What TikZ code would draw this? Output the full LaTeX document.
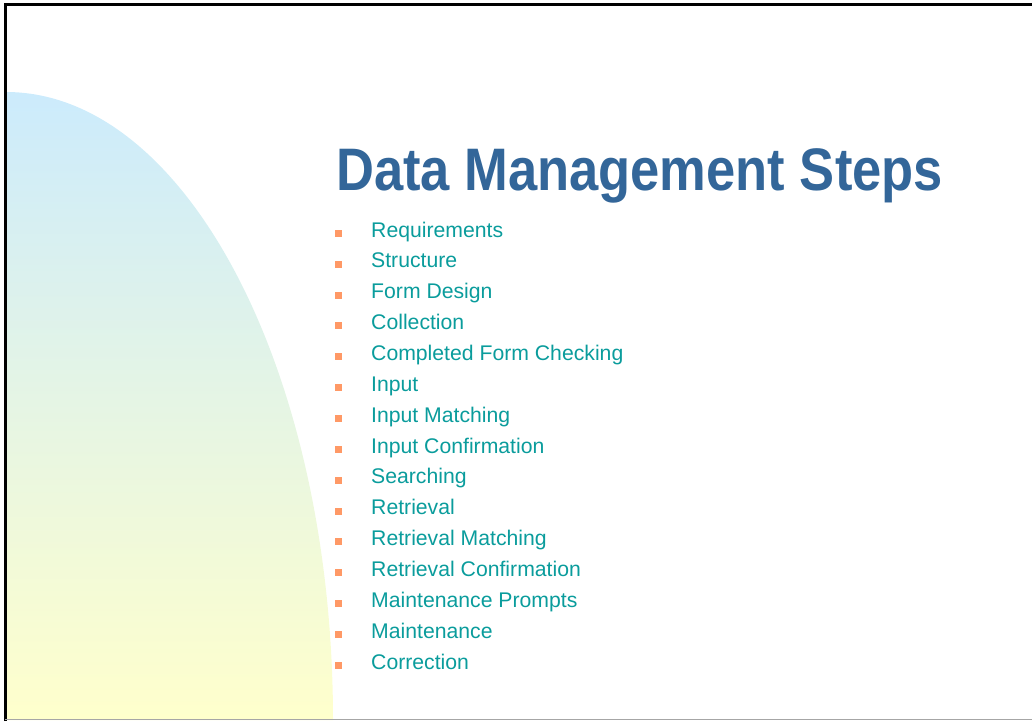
\documentclass[tikz,border=0pt]{standalone}
\usepackage{fontspec}
\setmainfont{Liberation Sans}
\newfontfamily\titlefont[FakeStretch=0.875]{Liberation Sans}
\definecolor{titleblue}{HTML}{336699}
\definecolor{itemteal}{HTML}{0A9C9C}
\definecolor{bulletorange}{HTML}{FF9966}
\definecolor{skyblue}{HTML}{CCEBFC}
\definecolor{paleyellow}{HTML}{FFFFCC}
\tikzset{
  steptext/.style={anchor=base west, inner sep=0pt, text=itemteal, font=\fontsize{21.2}{21.2}\selectfont},
  stepbullet/.style={anchor=south west, fill=bulletorange, minimum size=7pt, inner sep=0pt}
}
\begin{document}
\begin{tikzpicture}[x=1pt,y=-1pt]
	\useasboundingbox (0,0) rectangle (1032,721);
	% background swoosh
	\shade[top color=skyblue, bottom color=paleyellow] (6,720) -- (6,92) arc[start angle=-90, end angle=0, x radius=327, y radius=628] -- cycle;
	% frame
	\draw[line width=3pt] (5,721) -- (5,4.5) -- (1032,4.5);
	\draw[line width=1.5pt, black!35] (5,719.5) -- (1032,719.5);
	% title
	\node[anchor=base west, inner sep=0pt, text=titleblue, font=\titlefont\bfseries\fontsize{60}{60}\selectfont] (title) at (336,190) {Data Management Steps};
	% steps
	\foreach \txt [count=\i] in {Requirements, Structure, Form Design, Collection, Completed Form Checking, Input, Input Matching, Input Confirmation, Searching, Retrieval, Retrieval Matching, Retrieval Confirmation, Maintenance Prompts, Maintenance, Correction}{
		\node[steptext] (step\i) at (371,{237+(\i-1)*30.86}) {\txt};
		\node[stepbullet] (bullet\i) at (335,{237+(\i-1)*30.86}) {};
	}
\end{tikzpicture}
\end{document}
